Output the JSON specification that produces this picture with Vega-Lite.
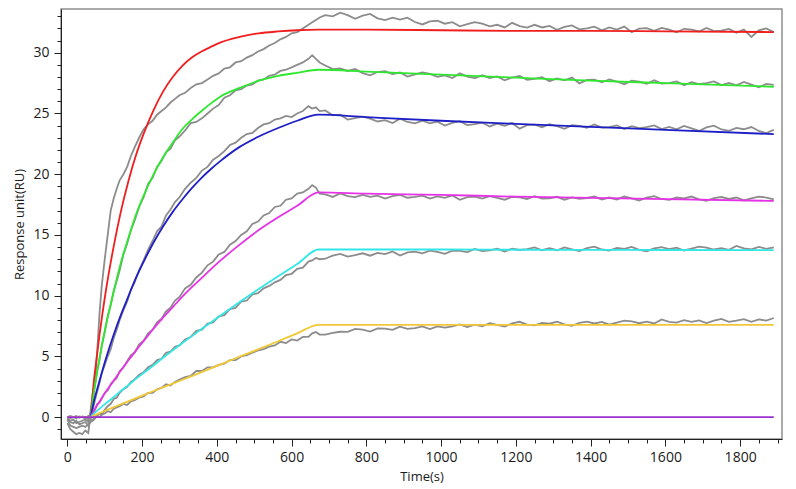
{
  "$schema": "https://vega.github.io/schema/vega-lite/v6.json",
  "width": 721,
  "height": 430,
  "autosize": "none",
  "padding": {"left": 61, "top": 9, "right": 14, "bottom": 50},
  "background": "white",
  "datasets": {
    "raw": [
      {"t":0,"a":-0.1,"b":-0.5,"c":-0.2,"d":0,"e":-0.1,"f":0.05},
      {"t":8,"a":-0.3,"b":-1.0,"c":-0.7,"d":0.1,"e":-0.4,"f":-0.1},
      {"t":16,"a":-0.2,"b":-1.2,"c":-0.8,"d":0,"e":-0.5,"f":0},
      {"t":24,"a":-0.5,"b":-1.4,"c":-0.9,"d":-0.1,"e":-0.3,"f":0.1},
      {"t":32,"a":-0.4,"b":-1.3,"c":-0.8,"d":0.05,"e":-0.6,"f":-0.05},
      {"t":40,"a":-0.3,"b":-1.4,"c":-0.7,"d":0,"e":-0.5,"f":0.05},
      {"t":48,"a":-0.2,"b":-1.1,"c":-0.8,"d":-0.1,"e":-0.4,"f":0},
      {"t":56,"a":-0.4,"b":-1.3,"c":-0.6,"d":0.1,"e":-0.7,"f":-0.2},
      {"t":62,"a":0.5,"b":0.2,"c":-0.2,"d":0,"e":-0.4,"f":-0.3},
      {"t":68,"a":2.0,"b":1.4,"c":0.6,"d":0.2,"e":-0.3,"f":-0.2},
      {"t":74,"a":3.0,"b":2.6,"c":1.4,"d":0.6,"e":-0.1,"f":0},
      {"t":80,"a":5.5,"b":3.9,"c":2.1,"d":1.1,"e":0.1,"f":0.1},
      {"t":86,"a":8.5,"b":4.7,"c":2.8,"d":1.2,"e":0.3,"f":0},
      {"t":92,"a":10.8,"b":5.9,"c":3.6,"d":1.5,"e":0.2,"f":0.2},
      {"t":100,"a":13.0,"b":7.0,"c":4.3,"d":2.0,"e":0.6,"f":0.3},
      {"t":108,"a":15.0,"b":8.3,"c":5.0,"d":2.2,"e":0.9,"f":0.5},
      {"t":116,"a":17.0,"b":9.2,"c":5.6,"d":2.7,"e":1.1,"f":0.4},
      {"t":124,"a":18.0,"b":10.4,"c":6.5,"d":3.0,"e":1.5,"f":0.7},
      {"t":132,"a":18.8,"b":11.2,"c":7.2,"d":3.2,"e":1.6,"f":0.8},
      {"t":140,"a":19.5,"b":12.1,"c":8.0,"d":3.8,"e":2.0,"f":0.9},
      {"t":150,"a":20.0,"b":13.4,"c":8.8,"d":4.1,"e":2.3,"f":1.1},
      {"t":160,"a":20.6,"b":14.3,"c":9.5,"d":4.6,"e":2.5,"f":1.0},
      {"t":170,"a":21.5,"b":15.4,"c":10.5,"d":5.1,"e":2.9,"f":1.3},
      {"t":180,"a":22.2,"b":16.2,"c":11.1,"d":5.3,"e":3.1,"f":1.4},
      {"t":192,"a":23.0,"b":17.3,"c":12.1,"d":6.0,"e":3.5,"f":1.6},
      {"t":204,"a":23.7,"b":18.1,"c":12.9,"d":6.3,"e":3.7,"f":1.7},
      {"t":216,"a":24.1,"b":19.2,"c":13.8,"d":6.9,"e":4.1,"f":2.0},
      {"t":228,"a":24.4,"b":19.7,"c":14.5,"d":7.2,"e":4.3,"f":2.0},
      {"t":240,"a":24.9,"b":20.6,"c":15.3,"d":7.8,"e":4.7,"f":2.3},
      {"t":252,"a":25.2,"b":21.1,"c":15.7,"d":8.1,"e":4.8,"f":2.4},
      {"t":264,"a":25.5,"b":21.8,"c":16.6,"d":8.7,"e":5.3,"f":2.7},
      {"t":276,"a":25.9,"b":22.1,"c":17.1,"d":9.0,"e":5.4,"f":2.6},
      {"t":288,"a":26.2,"b":22.8,"c":17.7,"d":9.6,"e":5.8,"f":2.9},
      {"t":300,"a":26.5,"b":23.1,"c":18.1,"d":9.9,"e":5.9,"f":3.1},
      {"t":315,"a":26.7,"b":23.6,"c":18.8,"d":10.6,"e":6.4,"f":3.3},
      {"t":330,"a":27.1,"b":24.2,"c":19.3,"d":10.9,"e":6.6,"f":3.4},
      {"t":345,"a":27.4,"b":24.3,"c":19.7,"d":11.5,"e":7.1,"f":3.8},
      {"t":360,"a":27.5,"b":24.6,"c":20.3,"d":11.9,"e":7.2,"f":3.8},
      {"t":375,"a":27.8,"b":25.0,"c":20.6,"d":12.5,"e":7.7,"f":4.1},
      {"t":390,"a":28.1,"b":25.4,"c":21.2,"d":12.8,"e":7.8,"f":4.1},
      {"t":405,"a":28.3,"b":25.7,"c":21.5,"d":13.4,"e":8.3,"f":4.3},
      {"t":420,"a":28.7,"b":26.3,"c":21.9,"d":13.6,"e":8.4,"f":4.4},
      {"t":435,"a":28.8,"b":26.5,"c":22.4,"d":14.2,"e":8.9,"f":4.7},
      {"t":450,"a":29.2,"b":26.9,"c":22.6,"d":14.5,"e":9.0,"f":4.7},
      {"t":465,"a":29.3,"b":27.0,"c":23.0,"d":15.0,"e":9.5,"f":5.0},
      {"t":480,"a":29.6,"b":27.3,"c":23.3,"d":15.3,"e":9.6,"f":5.1},
      {"t":495,"a":29.8,"b":27.4,"c":23.4,"d":15.9,"e":10.1,"f":5.3},
      {"t":510,"a":30.1,"b":27.7,"c":23.8,"d":16.1,"e":10.2,"f":5.5},
      {"t":525,"a":30.3,"b":27.8,"c":24.1,"d":16.6,"e":10.6,"f":5.6},
      {"t":540,"a":30.6,"b":28.1,"c":24.2,"d":16.8,"e":10.8,"f":5.8},
      {"t":555,"a":30.8,"b":28.2,"c":24.5,"d":17.3,"e":11.1,"f":5.9},
      {"t":570,"a":31.1,"b":28.5,"c":24.6,"d":17.4,"e":11.3,"f":6.2},
      {"t":585,"a":31.3,"b":28.6,"c":24.8,"d":17.9,"e":11.7,"f":6.1},
      {"t":600,"a":31.6,"b":28.8,"c":24.7,"d":18.0,"e":11.8,"f":6.4},
      {"t":615,"a":31.7,"b":29.0,"c":25.0,"d":18.4,"e":12.2,"f":6.3},
      {"t":630,"a":32.0,"b":29.2,"c":25.2,"d":18.5,"e":12.3,"f":6.6},
      {"t":645,"a":32.3,"b":29.5,"c":25.6,"d":18.8,"e":12.8,"f":6.6},
      {"t":655,"a":32.5,"b":29.8,"c":25.4,"d":19.1,"e":12.9,"f":6.9},
      {"t":665,"a":32.7,"b":29.5,"c":25.5,"d":18.9,"e":13.1,"f":7.0},
      {"t":675,"a":32.9,"b":29.2,"c":25.2,"d":18.4,"e":13.0,"f":6.8},
      {"t":690,"a":33.1,"b":28.95,"c":25.25,"d":18.34,"e":13.04,"f":6.8},
      {"t":710,"a":33.0,"b":28.65,"c":24.85,"d":18.13,"e":13.29,"f":6.94},
      {"t":730,"a":33.3,"b":28.7,"c":24.9,"d":18.42,"e":13.44,"f":7.03},
      {"t":750,"a":33.1,"b":28.5,"c":24.5,"d":18.2,"e":13.22,"f":7.02},
      {"t":770,"a":32.8,"b":28.66,"c":24.62,"d":18.11,"e":13.33,"f":7.27},
      {"t":790,"a":33.05,"b":28.32,"c":24.74,"d":18.3,"e":13.49,"f":7.2},
      {"t":810,"a":33.2,"b":28.14,"c":24.58,"d":18.13,"e":13.29,"f":7.05},
      {"t":830,"a":32.83,"b":28.41,"c":24.34,"d":18.24,"e":13.52,"f":7.31},
      {"t":850,"a":32.68,"b":28.48,"c":24.45,"d":17.99,"e":13.42,"f":7.29},
      {"t":870,"a":32.88,"b":28.25,"c":24.21,"d":18.19,"e":13.64,"f":7.19},
      {"t":890,"a":32.73,"b":28.37,"c":24.57,"d":18.3,"e":13.3,"f":7.45},
      {"t":910,"a":32.88,"b":28.04,"c":24.3,"d":18.06,"e":13.56,"f":7.27},
      {"t":930,"a":32.53,"b":28.21,"c":24.18,"d":18.13,"e":13.62,"f":7.33},
      {"t":950,"a":32.33,"b":28.38,"c":24.41,"d":18.24,"e":13.48,"f":7.47},
      {"t":970,"a":32.58,"b":28.25,"c":24.19,"d":17.99,"e":13.7,"f":7.25},
      {"t":990,"a":32.63,"b":28.02,"c":24.32,"d":18.18,"e":13.6,"f":7.47},
      {"t":1010,"a":32.39,"b":28.14,"c":24.0,"d":18.06,"e":13.45,"f":7.37},
      {"t":1030,"a":32.51,"b":27.92,"c":24.23,"d":18.25,"e":13.71,"f":7.48},
      {"t":1050,"a":32.18,"b":28.3,"c":24.36,"d":17.89,"e":13.69,"f":7.63},
      {"t":1070,"a":32.35,"b":28.03,"c":24.04,"d":18.12,"e":13.59,"f":7.42},
      {"t":1090,"a":32.52,"b":27.91,"c":24.12,"d":18.16,"e":13.85,"f":7.61},
      {"t":1110,"a":32.39,"b":28.14,"c":24.25,"d":17.99,"e":13.66,"f":7.48},
      {"t":1130,"a":32.17,"b":27.92,"c":23.93,"d":18.19,"e":13.72,"f":7.74},
      {"t":1150,"a":32.3,"b":28.05,"c":24.16,"d":18.06,"e":13.86,"f":7.6},
      {"t":1170,"a":32.08,"b":27.73,"c":23.99,"d":17.9,"e":13.64,"f":7.46},
      {"t":1190,"a":32.46,"b":27.96,"c":24.22,"d":18.13,"e":13.86,"f":7.72},
      {"t":1210,"a":32.19,"b":28.09,"c":23.75,"d":18.09,"e":13.76,"f":7.85},
      {"t":1230,"a":32.07,"b":27.77,"c":24.04,"d":17.96,"e":13.84,"f":7.62},
      {"t":1250,"a":32.3,"b":27.85,"c":24.08,"d":18.19,"e":13.97,"f":7.55},
      {"t":1270,"a":32.08,"b":27.98,"c":23.87,"d":17.99,"e":13.74,"f":7.76},
      {"t":1290,"a":32.21,"b":27.66,"c":24.11,"d":18.02,"e":13.9,"f":7.69},
      {"t":1310,"a":31.89,"b":27.89,"c":23.95,"d":18.14,"e":13.74,"f":7.86},
      {"t":1330,"a":32.12,"b":27.72,"c":23.74,"d":17.9,"e":13.98,"f":7.63},
      {"t":1350,"a":32.25,"b":27.95,"c":24.03,"d":18.09,"e":13.82,"f":7.52},
      {"t":1370,"a":31.93,"b":27.48,"c":23.97,"d":17.97,"e":13.67,"f":7.77},
      {"t":1390,"a":32.01,"b":27.76,"c":23.81,"d":18.04,"e":13.91,"f":7.86},
      {"t":1410,"a":32.15,"b":27.79,"c":24.1,"d":18.16,"e":14.03,"f":7.71},
      {"t":1430,"a":31.84,"b":27.57,"c":23.84,"d":17.92,"e":13.8,"f":7.84},
      {"t":1450,"a":32.08,"b":27.8,"c":23.88,"d":18.08,"e":13.72,"f":7.61},
      {"t":1470,"a":31.91,"b":27.63,"c":24.02,"d":17.92,"e":13.93,"f":7.78},
      {"t":1490,"a":32.15,"b":27.41,"c":23.71,"d":18.16,"e":13.85,"f":7.95},
      {"t":1510,"a":31.69,"b":27.69,"c":23.95,"d":18.0,"e":14.01,"f":7.88},
      {"t":1530,"a":31.98,"b":27.62,"c":23.79,"d":17.84,"e":13.77,"f":7.73},
      {"t":1550,"a":32.02,"b":27.45,"c":23.88,"d":18.08,"e":13.66,"f":7.86},
      {"t":1570,"a":31.81,"b":27.73,"c":24.02,"d":18.2,"e":13.9,"f":7.71},
      {"t":1590,"a":32.05,"b":27.46,"c":23.71,"d":17.96,"e":13.99,"f":8.04},
      {"t":1610,"a":31.9,"b":27.5,"c":23.9,"d":17.88,"e":13.83,"f":7.85},
      {"t":1630,"a":31.68,"b":27.64,"c":23.69,"d":18.08,"e":13.95,"f":7.78},
      {"t":1650,"a":31.97,"b":27.33,"c":23.98,"d":18.0,"e":13.72,"f":7.99},
      {"t":1670,"a":31.91,"b":27.57,"c":23.77,"d":18.16,"e":13.87,"f":7.84},
      {"t":1690,"a":31.75,"b":27.41,"c":23.56,"d":17.92,"e":14.03,"f":7.97},
      {"t":1710,"a":32.04,"b":27.5,"c":23.85,"d":17.8,"e":13.96,"f":7.74},
      {"t":1730,"a":31.78,"b":27.64,"c":23.99,"d":18.04,"e":13.8,"f":7.95},
      {"t":1750,"a":31.82,"b":27.33,"c":23.68,"d":18.12,"e":13.92,"f":8.08},
      {"t":1770,"a":31.96,"b":27.52,"c":23.57,"d":17.96,"e":13.77,"f":7.85},
      {"t":1790,"a":31.65,"b":27.31,"c":23.81,"d":18.08,"e":14.09,"f":7.94},
      {"t":1810,"a":31.9,"b":27.59,"c":23.7,"d":17.84,"e":13.89,"f":8.07},
      {"t":1830,"a":31.3,"b":27.37,"c":23.88,"d":18.0,"e":13.81,"f":7.84},
      {"t":1850,"a":31.85,"b":27.15,"c":23.56,"d":18.16,"e":14.02,"f":8.05},
      {"t":1870,"a":32.0,"b":27.43,"c":23.39,"d":18.08,"e":13.86,"f":7.94},
      {"t":1890,"a":31.7,"b":27.35,"c":23.65,"d":17.92,"e":13.98,"f":8.16}
    ],
    "fit": [
      {"t":0,"r":0,"g":0,"bl":0,"m":0,"cy":0,"y":0,"p":0},
      {"t":60,"r":0,"g":0,"bl":0,"m":0,"cy":0,"y":0,"p":0},
      {"t":72,"r":3.3,"g":2.3,"bl":1.44,"m":0.6,"cy":0.32,"y":0.15,"p":0},
      {"t":87,"r":7.0,"g":5.0,"bl":3.1,"m":1.33,"cy":0.72,"y":0.34,"p":0},
      {"t":102,"r":10.2,"g":7.4,"bl":4.7,"m":2.04,"cy":1.11,"y":0.53,"p":0},
      {"t":123,"r":13.9,"g":10.2,"bl":6.7,"m":2.96,"cy":1.63,"y":0.8,"p":0},
      {"t":143,"r":16.9,"g":12.7,"bl":8.4,"m":3.84,"cy":2.15,"y":1.06,"p":0},
      {"t":164,"r":19.5,"g":14.8,"bl":10.0,"m":4.7,"cy":2.66,"y":1.32,"p":0},
      {"t":184,"r":21.6,"g":16.7,"bl":11.5,"m":5.5,"cy":3.17,"y":1.57,"p":0},
      {"t":205,"r":23.4,"g":18.3,"bl":12.85,"m":6.3,"cy":3.66,"y":1.83,"p":0},
      {"t":231,"r":25.3,"g":20.0,"bl":14.4,"m":7.3,"cy":4.27,"y":2.15,"p":0},
      {"t":256,"r":26.8,"g":21.4,"bl":15.7,"m":8.2,"cy":4.89,"y":2.45,"p":0},
      {"t":282,"r":28.0,"g":22.6,"bl":16.9,"m":9.05,"cy":5.5,"y":2.76,"p":0},
      {"t":307,"r":28.9,"g":23.7,"bl":17.9,"m":9.9,"cy":6.08,"y":3.06,"p":0},
      {"t":333,"r":29.6,"g":24.5,"bl":18.85,"m":10.7,"cy":6.67,"y":3.38,"p":0},
      {"t":359,"r":30.1,"g":25.2,"bl":19.7,"m":11.45,"cy":7.25,"y":3.7,"p":0},
      {"t":385,"r":30.5,"g":25.85,"bl":20.45,"m":12.2,"cy":7.82,"y":4.03,"p":0},
      {"t":410,"r":30.85,"g":26.4,"bl":21.1,"m":12.9,"cy":8.37,"y":4.35,"p":0},
      {"t":461,"r":31.3,"g":27.1,"bl":22.25,"m":14.2,"cy":9.48,"y":4.98,"p":0},
      {"t":512,"r":31.6,"g":27.7,"bl":23.1,"m":15.4,"cy":10.55,"y":5.6,"p":0},
      {"t":564,"r":31.75,"g":28.1,"bl":23.8,"m":16.45,"cy":11.6,"y":6.25,"p":0},
      {"t":615,"r":31.85,"g":28.35,"bl":24.4,"m":17.4,"cy":12.6,"y":6.9,"p":0},
      {"t":672,"r":31.9,"g":28.6,"bl":24.9,"m":18.5,"cy":13.8,"y":7.6,"p":0},
      {"t":800,"r":31.9,"g":28.45,"bl":24.7,"m":18.4,"cy":13.8,"y":7.6,"p":0},
      {"t":1000,"r":31.85,"g":28.2,"bl":24.4,"m":18.3,"cy":13.8,"y":7.6,"p":0},
      {"t":1200,"r":31.8,"g":27.95,"bl":24.15,"m":18.15,"cy":13.78,"y":7.6,"p":0},
      {"t":1400,"r":31.8,"g":27.7,"bl":23.9,"m":18.05,"cy":13.77,"y":7.6,"p":0},
      {"t":1600,"r":31.75,"g":27.5,"bl":23.65,"m":17.95,"cy":13.76,"y":7.6,"p":0},
      {"t":1890,"r":31.7,"g":27.2,"bl":23.3,"m":17.8,"cy":13.75,"y":7.6,"p":0}
    ]
  },
  "layer": [
    {
      "data": {"name": "raw"},
      "transform": [{"fold": ["a", "b", "c", "d", "e", "f"], "as": ["run", "ru"]}],
      "mark": {"type": "line", "color": "#8c8c8c", "strokeWidth": 1.8},
      "encoding": {
        "x": {
          "field": "t", "type": "quantitative",
          "scale": {"domain": [-17, 1912], "nice": false, "zero": false},
          "axis": {
            "orient": "bottom", "title": "Time(s)", "format": "d",
            "values": [0, 200, 400, 600, 800, 1000, 1200, 1400, 1600, 1800],
            "tickSize": 7, "labelPadding": 4, "titlePadding": 6
          }
        },
        "y": {
          "field": "ru", "type": "quantitative",
          "scale": {"domain": [-1.8, 33.6], "nice": false, "zero": false},
          "axis": {
            "orient": "left", "title": "Response unit(RU)",
            "values": [0, 5, 10, 15, 20, 25, 30],
            "tickSize": 7, "labelPadding": 5, "titlePadding": 6
          }
        },
        "detail": {"field": "run", "type": "nominal"}
      }
    },
    {
      "data": {"name": "fit"},
      "transform": [{"fold": ["r", "g", "bl", "m", "cy", "y"], "as": ["curve", "ru"]}],
      "mark": {"type": "line", "strokeWidth": 1.8, "interpolate": "monotone"},
      "encoding": {
        "x": {
          "field": "t", "type": "quantitative",
          "scale": {"domain": [-17, 1912], "nice": false, "zero": false},
          "axis": {
            "orient": "bottom", "title": null, "labels": false, "domain": false, "tickSize": 4,
            "values": [0, 50, 100, 150, 200, 250, 300, 350, 400, 450, 500, 550, 600, 650, 700, 750, 800, 850, 900, 950, 1000, 1050, 1100, 1150, 1200, 1250, 1300, 1350, 1400, 1450, 1500, 1550, 1600, 1650, 1700, 1750, 1800, 1850, 1900]
          }
        },
        "y": {
          "field": "ru", "type": "quantitative",
          "scale": {"domain": [-1.8, 33.6], "nice": false, "zero": false},
          "axis": {
            "orient": "left", "title": null, "labels": false, "domain": false, "tickSize": 4,
            "values": [-1, 0, 1, 2, 3, 4, 5, 6, 7, 8, 9, 10, 11, 12, 13, 14, 15, 16, 17, 18, 19, 20, 21, 22, 23, 24, 25, 26, 27, 28, 29, 30, 31, 32, 33]
          }
        },
        "color": {
          "field": "curve", "type": "nominal",
          "scale": {
            "domain": ["r", "g", "bl", "m", "cy", "y"],
            "range": ["#f01e1e", "#2ee82e", "#1e1ec8", "#e632e6", "#33e6e6", "#f2c834"]
          },
          "legend": null
        }
      }
    },
    {
      "data": {"name": "fit"},
      "mark": {"type": "line", "color": "#9b30d0", "strokeWidth": 1.8},
      "encoding": {
        "x": {"field": "t", "type": "quantitative", "scale": {"domain": [-17, 1912], "nice": false, "zero": false}, "axis": null},
        "y": {"field": "p", "type": "quantitative", "scale": {"domain": [-1.8, 33.6], "nice": false, "zero": false}, "axis": null}
      }
    }
  ],
  "resolve": {"axis": {"x": "independent", "y": "independent"}},
  "config": {
    "view": {"stroke": "#8f8f8f", "strokeWidth": 1.5},
    "axis": {
      "grid": false,
      "domainColor": "#222222",
      "domainWidth": 1,
      "tickColor": "#222222",
      "labelFont": "Open Sans",
      "labelFontSize": 14,
      "labelColor": "#1a1a1a",
      "titleFont": "Open Sans",
      "titleFontSize": 13,
      "titleFontWeight": "normal",
      "titleColor": "#1a1a1a"
    }
  }
}
